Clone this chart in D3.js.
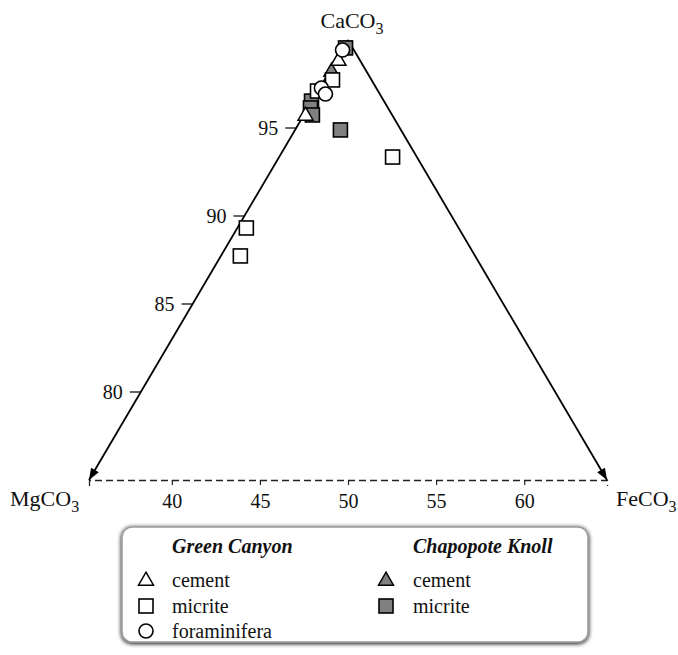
<!DOCTYPE html>
<html>
<head>
<meta charset="utf-8">
<script src="https://cdn.jsdelivr.net/npm/d3@7"></script>
<style>
  html, body { margin: 0; padding: 0; background: #fff; }
  svg { display: block; }
  text { font-family: "Liberation Serif", "Times New Roman", serif; fill: #111; }
</style>
</head>
<body>
<svg id="chart" width="678" height="655"></svg>
<script>
// Bottom axis values (x) and CaCO3 mol% (y)
const xTicks = [40, 45, 50, 55, 60];
const caTicks = [95, 90, 85, 80];

// Green Canyon
const gcCement = [[49.46, 98.86], [47.59, 95.74]];
const gcMicrite = [[44.23, 89.32], [43.89, 87.73], [52.53, 93.35], [49.12, 97.73], [48.27, 97.10]];
const gcForam = [[49.69, 99.43], [48.49, 97.27], [48.72, 96.93]];

// Chapopote Knoll
const ckCement = [[49.06, 98.24]];
const ckMicrite = [[49.86, 99.55], [49.57, 94.89], [47.93, 96.53], [47.87, 96.14], [47.98, 95.74]];

const svg = d3.select("#chart");
const x = d3.scaleLinear().domain([35.3, 64.7]).range([89, 607]);
const y = d3.scaleLinear().domain([75, 100]).range([480, 40]);

// corners of the diagram in data units
const apex = [50, 100], leftC = [35.3, 75], rightC = [64.7, 75];

const defs = svg.append("defs");
defs.append("marker")
  .attr("id", "arrow").attr("viewBox", "0 0 13 10")
  .attr("refX", 13).attr("refY", 5)
  .attr("markerWidth", 13).attr("markerHeight", 9)
  .attr("markerUnits", "userSpaceOnUse")
  .attr("orient", "auto")
  .append("path").attr("d", "M0,0 L13,5 L0,10 Z").attr("fill", "#000");

const shadow = defs.append("filter").attr("id", "shadow")
  .attr("x", "-5%").attr("y", "-10%").attr("width", "110%").attr("height", "125%");
shadow.append("feGaussianBlur").attr("in", "SourceAlpha").attr("stdDeviation", 2);
shadow.append("feOffset").attr("dx", 0).attr("dy", 1).attr("result", "b");
const fm = shadow.append("feMerge");
fm.append("feMergeNode").attr("in", "b");
fm.append("feMergeNode").attr("in", "SourceGraphic");

// bottom dashed axis
const xAxis = d3.axisBottom(x).tickValues(xTicks).tickSize(5).tickSizeOuter(6).tickPadding(9);
const gx = svg.append("g").attr("transform", `translate(0,${y(75)})`).call(xAxis);
gx.select(".domain").attr("stroke", "#222").attr("stroke-width", 1.3).attr("stroke-dasharray", "7,4");
gx.selectAll(".tick line").attr("stroke", "#222").attr("stroke-width", 1.2);
gx.selectAll(".tick text").attr("font-size", 20).attr("font-family", "Liberation Serif").attr("fill", "#111");

// triangle edges with arrows
[[apex, leftC], [apex, rightC]].forEach(([a, b]) => {
  svg.append("line")
    .attr("x1", x(a[0])).attr("y1", y(a[1]))
    .attr("x2", x(b[0])).attr("y2", y(b[1]))
    .attr("stroke", "#000").attr("stroke-width", 1.8)
    .attr("marker-end", "url(#arrow)");
});

// CaCO3 ticks on the left edge
const edgeX = v => apex[0] - (apex[1] - v) * (apex[0] - leftC[0]) / (apex[1] - leftC[1]);
const gy = svg.append("g");
caTicks.forEach(v => {
  const px = x(edgeX(v)), py = y(v);
  gy.append("line").attr("x1", px - 11).attr("x2", px).attr("y1", py).attr("y2", py)
    .attr("stroke", "#000").attr("stroke-width", 1.2);
  gy.append("text").attr("x", px - 18).attr("y", py).attr("dy", "0.35em")
    .attr("text-anchor", "end").attr("font-size", 20).text(v);
});

// end-member labels
function formula(g, base, px, py, anchor) {
  const t = g.append("text").attr("x", px).attr("y", py).attr("font-size", 22).attr("text-anchor", anchor);
  t.append("tspan").text(base);
  t.append("tspan").attr("font-size", 16).attr("dy", 6).text("3");
}
formula(svg, "CaCO", x(apex[0]) + 4, 28, "middle");
formula(svg, "MgCO", 10, 506, "start");
formula(svg, "FeCO", 616, 506, "start");

// marker shapes
const S = 14;
function drawMark(g, kind, px, py, fill) {
  if (kind === "square") {
    g.append("rect").attr("x", px - S / 2).attr("y", py - S / 2).attr("width", S).attr("height", S)
      .attr("fill", fill).attr("stroke", "#000").attr("stroke-width", 1.6);
  } else if (kind === "circle") {
    g.append("circle").attr("cx", px).attr("cy", py).attr("r", S / 2)
      .attr("fill", fill).attr("stroke", "#000").attr("stroke-width", 1.6);
  } else {
    const h = 13, w = 7.5;
    g.append("path").attr("d", `M${px},${py - h * 0.6}L${px + w},${py + h * 0.4}L${px - w},${py + h * 0.4}Z`)
      .attr("fill", fill).attr("stroke", "#000").attr("stroke-width", 1.5).attr("stroke-linejoin", "miter");
  }
}

const grey = "#808080";
const series = [
  { data: ckMicrite, kind: "square", fill: grey },
  { data: ckCement, kind: "triangle", fill: grey },
  { data: gcMicrite, kind: "square", fill: "#fff" },
  { data: gcCement, kind: "triangle", fill: "#fff" },
  { data: gcForam, kind: "circle", fill: "#fff" }
];
const gp = svg.append("g");
series.forEach(s => s.data.forEach(d => drawMark(gp, s.kind, x(d[0]), y(d[1]), s.fill)));

// legend
const lg = svg.append("g");
lg.append("rect").attr("x", 122).attr("y", 527).attr("width", 466).attr("height", 115)
  .attr("rx", 10).attr("fill", "#fff").attr("stroke", "#9a9a9a").attr("stroke-width", 1.5)
  .attr("filter", "url(#shadow)");
const cols = [
  { title: "Green Canyon", sx: 146, tx: 172, items: [["triangle", "cement"], ["square", "micrite"], ["circle", "foraminifera"]], fill: "#fff" },
  { title: "Chapopote Knoll", sx: 386, tx: 413, items: [["triangle", "cement"], ["square", "micrite"]], fill: grey }
];
const rowsY = [580, 606, 631];
cols.forEach(c => {
  lg.append("text").attr("x", c.tx).attr("y", 546).attr("dy", "0.35em")
    .attr("font-size", 20).attr("font-weight", "bold").attr("font-style", "italic").text(c.title);
  c.items.forEach((it, i) => {
    drawMark(lg, it[0], c.sx, rowsY[i], c.fill);
    lg.append("text").attr("x", c.tx).attr("y", rowsY[i]).attr("dy", "0.35em")
      .attr("font-size", 20).text(it[1]);
  });
});
</script>
</body>
</html>
